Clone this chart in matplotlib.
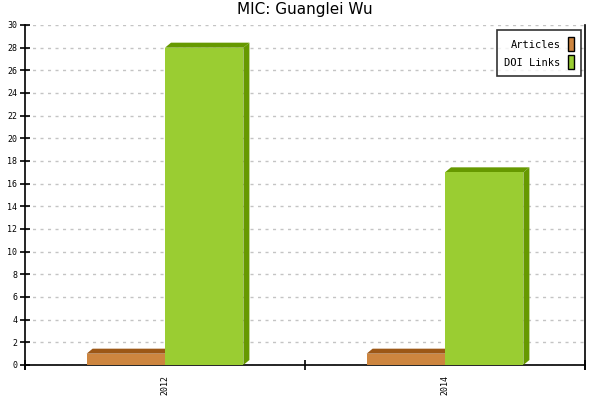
import matplotlib
matplotlib.use("Agg")
import matplotlib.pyplot as plt
from matplotlib.patches import Polygon, Patch
import numpy as np

categories = ["2012", "2014"]
articles = [1, 1]
doi_links = [28, 17]
series_names = ["Articles", "DOI Links"]

front_colors = ["#CD853F", "#9ACD32"]
dark_colors = ["#9C5716", "#669900"]

fig = plt.figure(figsize=(6, 4), dpi=100)
ax = fig.add_axes([25/600, 35/400, 560/600, 340/400])
ax.set_xlim(-0.5, len(categories) - 0.5)
ax.set_ylim(0, 30)

mono = "DejaVu Sans Mono"
x = np.arange(len(categories))
w = 0.28
dx, dy = 6, 5  # pixels depth

def bar3d(ax, xs, heights, width, front, dark):
    for xi, h in zip(xs, heights):
        x0, x1 = xi, xi + width
        trans = ax.transData
        p00 = trans.transform((x0, 0))
        p10 = trans.transform((x1, 0))
        p0h = trans.transform((x0, h))
        p1h = trans.transform((x1, h))
        top = Polygon([p0h, p1h, p1h + [dx, dy], p0h + [dx, dy]], closed=True,
                      facecolor=dark, edgecolor="none", transform=None, zorder=3)
        side = Polygon([p10, p1h, p1h + [dx, dy], p10 + [dx, dy]], closed=True,
                       facecolor=dark, edgecolor="none", transform=None, zorder=3)
        fig.add_artist(top)
        fig.add_artist(side)
        frontp = Polygon([p00, p10, p1h, p0h], closed=True, facecolor=front,
                         edgecolor="none", transform=None, zorder=3)
        fig.add_artist(frontp)

fig.canvas.draw()
bar3d(ax, x - w, articles, w, front_colors[0], dark_colors[0])
bar3d(ax, x, doi_links, w, front_colors[1], dark_colors[1])

# grid
ax.set_yticks(np.arange(0, 31, 2))
ax.yaxis.grid(True, linestyle=(0, (2.2, 3.2)), color="#c4c4c4", linewidth=1)
ax.set_axisbelow(True)
ax.spines["top"].set_visible(False)
ax.spines["right"].set_bounds(-0.35, 30)
ax.spines["left"].set_bounds(-0.35, 30)
for s in ["left", "bottom", "right"]:
    ax.spines[s].set_linewidth(1.2)

ax.tick_params(axis="y", direction="inout", length=7, width=1.2, labelsize=6, pad=2)
for lab in ax.get_yticklabels():
    lab.set_fontfamily(mono)

# x ticks: boundaries major, labels at centers minor
ax.set_xticks(np.arange(-0.5, len(categories), 1.0))
ax.set_xticklabels([])
ax.tick_params(axis="x", which="major", direction="inout", length=6.5, width=1.2)
ax.set_xticks(x, minor=True)
ax.set_xticklabels(categories, minor=True, rotation=90, fontsize=6, fontfamily=mono)
ax.tick_params(axis="x", which="minor", length=0, pad=7)

ax.set_title("MIC: Guanglei Wu", fontsize=11, pad=8)

handles = [Patch(facecolor=c, edgecolor="black", linewidth=1) for c in front_colors]
leg = ax.legend(handles, series_names, loc="upper right", markerfirst=False,
                prop={"family": mono, "size": 7.5}, frameon=True, fancybox=False,
                edgecolor="black", handlelength=0.55, handleheight=1.7,
                borderpad=0.7, labelspacing=0.35, handletextpad=0.7,
                borderaxespad=0, bbox_to_anchor=(0.9929, 0.985))
leg.get_frame().set_linewidth(1.2)

fig.savefig("out.png", dpi=100)
